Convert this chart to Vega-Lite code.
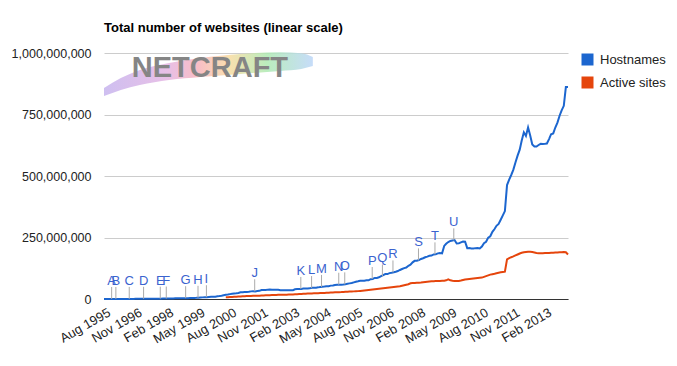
{
  "$schema": "https://vega.github.io/schema/vega-lite/v6.json",
  "width": 464,
  "height": 246,
  "autosize": "none",
  "padding": {"left": 104, "top": 53, "right": 109, "bottom": 67},
  "config": {
    "font": "Liberation Sans",
    "view": {"stroke": null}
  },
  "title": {
    "text": "Total number of websites (linear scale)",
    "anchor": "start",
    "frame": "group",
    "fontSize": 13,
    "fontWeight": "bold",
    "color": "#000000",
    "offset": 12
  },
  "datasets": {
    "series": [
      {"date":"1995-08","Hostnames":0.019},
      {"date":"1995-09","Hostnames":0.02},
      {"date":"1995-10","Hostnames":0.03},
      {"date":"1995-11","Hostnames":0.05},
      {"date":"1995-12","Hostnames":0.07},
      {"date":"1996-01","Hostnames":0.1},
      {"date":"1996-02","Hostnames":0.12},
      {"date":"1996-03","Hostnames":0.15},
      {"date":"1996-04","Hostnames":0.17},
      {"date":"1996-05","Hostnames":0.22},
      {"date":"1996-06","Hostnames":0.25},
      {"date":"1996-07","Hostnames":0.3},
      {"date":"1996-08","Hostnames":0.34},
      {"date":"1996-09","Hostnames":0.4},
      {"date":"1996-10","Hostnames":0.46},
      {"date":"1996-11","Hostnames":0.53},
      {"date":"1996-12","Hostnames":0.6},
      {"date":"1997-01","Hostnames":0.65},
      {"date":"1997-02","Hostnames":0.74},
      {"date":"1997-03","Hostnames":0.79},
      {"date":"1997-04","Hostnames":0.9},
      {"date":"1997-05","Hostnames":1.0},
      {"date":"1997-06","Hostnames":1.1},
      {"date":"1997-07","Hostnames":1.16},
      {"date":"1997-08","Hostnames":1.2},
      {"date":"1997-09","Hostnames":1.3},
      {"date":"1997-10","Hostnames":1.36},
      {"date":"1997-11","Hostnames":1.47},
      {"date":"1997-12","Hostnames":1.6},
      {"date":"1998-01","Hostnames":1.83},
      {"date":"1998-02","Hostnames":1.92},
      {"date":"1998-03","Hostnames":2.11},
      {"date":"1998-04","Hostnames":2.27},
      {"date":"1998-05","Hostnames":2.4},
      {"date":"1998-06","Hostnames":2.6},
      {"date":"1998-07","Hostnames":2.6},
      {"date":"1998-08","Hostnames":2.64},
      {"date":"1998-09","Hostnames":3.0},
      {"date":"1998-10","Hostnames":3.16},
      {"date":"1998-11","Hostnames":3.35},
      {"date":"1998-12","Hostnames":3.52},
      {"date":"1999-01","Hostnames":4.06},
      {"date":"1999-02","Hostnames":4.3},
      {"date":"1999-03","Hostnames":4.4},
      {"date":"1999-04","Hostnames":4.8},
      {"date":"1999-05","Hostnames":5.4},
      {"date":"1999-06","Hostnames":6.2},
      {"date":"1999-07","Hostnames":6.6},
      {"date":"1999-08","Hostnames":7.1},
      {"date":"1999-09","Hostnames":7.4},
      {"date":"1999-10","Hostnames":8.1},
      {"date":"1999-11","Hostnames":8.8},
      {"date":"1999-12","Hostnames":9.6},
      {"date":"2000-01","Hostnames":9.6},
      {"date":"2000-02","Hostnames":11.2},
      {"date":"2000-03","Hostnames":11.8},
      {"date":"2000-04","Hostnames":13.1},
      {"date":"2000-05","Hostnames":15.1},
      {"date":"2000-06","Hostnames":17.1,"Active sites":7.0},
      {"date":"2000-07","Hostnames":18.2,"Active sites":7.5},
      {"date":"2000-08","Hostnames":19.8,"Active sites":8.0},
      {"date":"2000-09","Hostnames":21.2,"Active sites":8.5},
      {"date":"2000-10","Hostnames":22.3,"Active sites":9.0},
      {"date":"2000-11","Hostnames":23.2,"Active sites":9.5},
      {"date":"2000-12","Hostnames":24.5,"Active sites":10.0},
      {"date":"2001-01","Hostnames":27.0,"Active sites":10.5},
      {"date":"2001-02","Hostnames":27.6,"Active sites":11.0},
      {"date":"2001-03","Hostnames":28.1,"Active sites":11.5},
      {"date":"2001-04","Hostnames":28.7,"Active sites":12.0},
      {"date":"2001-05","Hostnames":29.3,"Active sites":12.3},
      {"date":"2001-06","Hostnames":31.0,"Active sites":12.6},
      {"date":"2001-07","Hostnames":31.4,"Active sites":12.8},
      {"date":"2001-08","Hostnames":30.8,"Active sites":13.0},
      {"date":"2001-09","Hostnames":32.4,"Active sites":13.2},
      {"date":"2001-10","Hostnames":33.1,"Active sites":13.5},
      {"date":"2001-11","Hostnames":36.5,"Active sites":14.0},
      {"date":"2001-12","Hostnames":36.3,"Active sites":14.5},
      {"date":"2002-01","Hostnames":36.3,"Active sites":15.0},
      {"date":"2002-02","Hostnames":38.1,"Active sites":15.3},
      {"date":"2002-03","Hostnames":38.4,"Active sites":15.6},
      {"date":"2002-04","Hostnames":37.6,"Active sites":16.0},
      {"date":"2002-05","Hostnames":38.1,"Active sites":16.3},
      {"date":"2002-06","Hostnames":37.9,"Active sites":16.6},
      {"date":"2002-07","Hostnames":37.2,"Active sites":16.8},
      {"date":"2002-08","Hostnames":35.8,"Active sites":17.0},
      {"date":"2002-09","Hostnames":35.5,"Active sites":17.2},
      {"date":"2002-10","Hostnames":35.6,"Active sites":17.5},
      {"date":"2002-11","Hostnames":35.4,"Active sites":17.7},
      {"date":"2002-12","Hostnames":35.5,"Active sites":18.0},
      {"date":"2003-01","Hostnames":35.9,"Active sites":18.2},
      {"date":"2003-02","Hostnames":35.9,"Active sites":18.5},
      {"date":"2003-03","Hostnames":39.5,"Active sites":19.0},
      {"date":"2003-04","Hostnames":40.4,"Active sites":19.5},
      {"date":"2003-05","Hostnames":40.9,"Active sites":20.0},
      {"date":"2003-06","Hostnames":40.9,"Active sites":20.5},
      {"date":"2003-07","Hostnames":42.3,"Active sites":21.0},
      {"date":"2003-08","Hostnames":42.8,"Active sites":21.5},
      {"date":"2003-09","Hostnames":43.1,"Active sites":22.0},
      {"date":"2003-10","Hostnames":43.3,"Active sites":22.4},
      {"date":"2003-11","Hostnames":45.9,"Active sites":22.8},
      {"date":"2003-12","Hostnames":46.1,"Active sites":23.0},
      {"date":"2004-01","Hostnames":46.1,"Active sites":23.3},
      {"date":"2004-02","Hostnames":47.3,"Active sites":23.6},
      {"date":"2004-03","Hostnames":48.8,"Active sites":24.0},
      {"date":"2004-04","Hostnames":50.0,"Active sites":24.3},
      {"date":"2004-05","Hostnames":50.5,"Active sites":24.6},
      {"date":"2004-06","Hostnames":51.6,"Active sites":25.0},
      {"date":"2004-07","Hostnames":52.1,"Active sites":25.5},
      {"date":"2004-08","Hostnames":54.4,"Active sites":26.0},
      {"date":"2004-09","Hostnames":55.2,"Active sites":26.5},
      {"date":"2004-10","Hostnames":56.9,"Active sites":27.0},
      {"date":"2004-11","Hostnames":57.9,"Active sites":27.5},
      {"date":"2004-12","Hostnames":57.9,"Active sites":27.8},
      {"date":"2005-01","Hostnames":58.0,"Active sites":28.0},
      {"date":"2005-02","Hostnames":59.1,"Active sites":28.5},
      {"date":"2005-03","Hostnames":60.3,"Active sites":29.0},
      {"date":"2005-04","Hostnames":62.3,"Active sites":29.5},
      {"date":"2005-05","Hostnames":63.5,"Active sites":30.0},
      {"date":"2005-06","Hostnames":64.8,"Active sites":30.5},
      {"date":"2005-07","Hostnames":67.6,"Active sites":31.0},
      {"date":"2005-08","Hostnames":70.4,"Active sites":31.5},
      {"date":"2005-09","Hostnames":72.1,"Active sites":32.0},
      {"date":"2005-10","Hostnames":74.4,"Active sites":33.0},
      {"date":"2005-11","Hostnames":74.4,"Active sites":34.0},
      {"date":"2005-12","Hostnames":74.2,"Active sites":35.0},
      {"date":"2006-01","Hostnames":76.2,"Active sites":36.0},
      {"date":"2006-02","Hostnames":76.2,"Active sites":37.0},
      {"date":"2006-03","Hostnames":80.7,"Active sites":38.0},
      {"date":"2006-04","Hostnames":81.6,"Active sites":39.0},
      {"date":"2006-05","Hostnames":85.5,"Active sites":40.0},
      {"date":"2006-06","Hostnames":85.5,"Active sites":41.0},
      {"date":"2006-07","Hostnames":88.2,"Active sites":42.0},
      {"date":"2006-08","Hostnames":92.6,"Active sites":43.0},
      {"date":"2006-09","Hostnames":96.9,"Active sites":44.0},
      {"date":"2006-10","Hostnames":101.4,"Active sites":45.0},
      {"date":"2006-11","Hostnames":101.4,"Active sites":46.0},
      {"date":"2006-12","Hostnames":105.2,"Active sites":47.0},
      {"date":"2007-01","Hostnames":106.9,"Active sites":48.0},
      {"date":"2007-02","Hostnames":108.8,"Active sites":49.0},
      {"date":"2007-03","Hostnames":110.8,"Active sites":50.0},
      {"date":"2007-04","Hostnames":113.7,"Active sites":51.0},
      {"date":"2007-05","Hostnames":118.0,"Active sites":52.0},
      {"date":"2007-06","Hostnames":122.0,"Active sites":54.0},
      {"date":"2007-07","Hostnames":125.6,"Active sites":56.0},
      {"date":"2007-08","Hostnames":127.9,"Active sites":58.0},
      {"date":"2007-09","Hostnames":135.2,"Active sites":60.0},
      {"date":"2007-10","Hostnames":139.1,"Active sites":64.0},
      {"date":"2007-11","Hostnames":149.0,"Active sites":65.0},
      {"date":"2007-12","Hostnames":155.2,"Active sites":65.5},
      {"date":"2008-01","Hostnames":155.6,"Active sites":66.0},
      {"date":"2008-02","Hostnames":158.2,"Active sites":66.5},
      {"date":"2008-03","Hostnames":162.7,"Active sites":67.0},
      {"date":"2008-04","Hostnames":165.7,"Active sites":68.0},
      {"date":"2008-05","Hostnames":169.8,"Active sites":69.0},
      {"date":"2008-06","Hostnames":172.3,"Active sites":70.0},
      {"date":"2008-07","Hostnames":175.5,"Active sites":71.0},
      {"date":"2008-08","Hostnames":176.7,"Active sites":72.0},
      {"date":"2008-09","Hostnames":181.3,"Active sites":72.5},
      {"date":"2008-10","Hostnames":182.2,"Active sites":73.0},
      {"date":"2008-11","Hostnames":185.5,"Active sites":73.0},
      {"date":"2008-12","Hostnames":186.7,"Active sites":73.5},
      {"date":"2009-01","Hostnames":185.5,"Active sites":74.0},
      {"date":"2009-02","Hostnames":215.7,"Active sites":74.5},
      {"date":"2009-03","Hostnames":224.7,"Active sites":76.0},
      {"date":"2009-04","Hostnames":231.5,"Active sites":80.0},
      {"date":"2009-05","Hostnames":235.9,"Active sites":76.0},
      {"date":"2009-06","Hostnames":238.0,"Active sites":74.0},
      {"date":"2009-07","Hostnames":239.6,"Active sites":73.0},
      {"date":"2009-08","Hostnames":225.9,"Active sites":73.0},
      {"date":"2009-09","Hostnames":226.1,"Active sites":73.5},
      {"date":"2009-10","Hostnames":230.4,"Active sites":75.0},
      {"date":"2009-11","Hostnames":233.8,"Active sites":77.0},
      {"date":"2009-12","Hostnames":233.1,"Active sites":79.0},
      {"date":"2010-01","Hostnames":206.7,"Active sites":80.0},
      {"date":"2010-02","Hostnames":207.0,"Active sites":81.0},
      {"date":"2010-03","Hostnames":205.4,"Active sites":82.0},
      {"date":"2010-04","Hostnames":205.5,"Active sites":83.0},
      {"date":"2010-05","Hostnames":206.8,"Active sites":84.0},
      {"date":"2010-06","Hostnames":206.9,"Active sites":85.0},
      {"date":"2010-07","Hostnames":205.7,"Active sites":86.0},
      {"date":"2010-08","Hostnames":213.5,"Active sites":87.0},
      {"date":"2010-09","Hostnames":227.2,"Active sites":90.0},
      {"date":"2010-10","Hostnames":232.8,"Active sites":93.0},
      {"date":"2010-11","Hostnames":249.5,"Active sites":96.0},
      {"date":"2010-12","Hostnames":255.0,"Active sites":99.0},
      {"date":"2011-01","Hostnames":273.3,"Active sites":101.0},
      {"date":"2011-02","Hostnames":284.6,"Active sites":103.0},
      {"date":"2011-03","Hostnames":297.6,"Active sites":105.0},
      {"date":"2011-04","Hostnames":305.0,"Active sites":107.0},
      {"date":"2011-05","Hostnames":322.0,"Active sites":109.0},
      {"date":"2011-06","Hostnames":340.0,"Active sites":110.0},
      {"date":"2011-07","Hostnames":357.3,"Active sites":111.0},
      {"date":"2011-08","Hostnames":463.0,"Active sites":161.0},
      {"date":"2011-09","Hostnames":485.1,"Active sites":166.0},
      {"date":"2011-10","Hostnames":504.1,"Active sites":170.0},
      {"date":"2011-11","Hostnames":525.9,"Active sites":173.0},
      {"date":"2011-12","Hostnames":555.0,"Active sites":177.0},
      {"date":"2012-01","Hostnames":582.7,"Active sites":181.0},
      {"date":"2012-02","Hostnames":607.1,"Active sites":185.0},
      {"date":"2012-03","Hostnames":644.3,"Active sites":188.0},
      {"date":"2012-04","Hostnames":677.7,"Active sites":190.0},
      {"date":"2012-05","Hostnames":662.9,"Active sites":191.0},
      {"date":"2012-06","Hostnames":697.1,"Active sites":192.0},
      {"date":"2012-07","Hostnames":665.9,"Active sites":192.0},
      {"date":"2012-08","Hostnames":628.2,"Active sites":191.0},
      {"date":"2012-09","Hostnames":620.2,"Active sites":189.0},
      {"date":"2012-10","Hostnames":620.0,"Active sites":187.0},
      {"date":"2012-11","Hostnames":626.0,"Active sites":186.0},
      {"date":"2012-12","Hostnames":631.0,"Active sites":186.0},
      {"date":"2013-01","Hostnames":629.9,"Active sites":186.0},
      {"date":"2013-02","Hostnames":630.8,"Active sites":186.5},
      {"date":"2013-03","Hostnames":632.0,"Active sites":187.0},
      {"date":"2013-04","Hostnames":650.0,"Active sites":187.0},
      {"date":"2013-05","Hostnames":670.0,"Active sites":188.0},
      {"date":"2013-06","Hostnames":673.0,"Active sites":188.0},
      {"date":"2013-07","Hostnames":697.0,"Active sites":189.0},
      {"date":"2013-08","Hostnames":716.8,"Active sites":189.0},
      {"date":"2013-09","Hostnames":745.0,"Active sites":190.0},
      {"date":"2013-10","Hostnames":767.0,"Active sites":190.0},
      {"date":"2013-11","Hostnames":785.3,"Active sites":191.0},
      {"date":"2013-12","Hostnames":861.4,"Active sites":190.0},
      {"date":"2014-01","Hostnames":861.4,"Active sites":181.0}
    ],
    "events": [
      {"letter":"A","date":"1995-11-20","v":0.05},
      {"letter":"B","date":"1996-01-20","v":0.1},
      {"letter":"C","date":"1996-08-01","v":0.34},
      {"letter":"D","date":"1997-02-25","v":0.77},
      {"letter":"E","date":"1997-10-25","v":1.4},
      {"letter":"F","date":"1998-01-20","v":1.85},
      {"letter":"G","date":"1998-10-28","v":3.2},
      {"letter":"H","date":"1999-04-25","v":4.8},
      {"letter":"I","date":"1999-08-25","v":7.3},
      {"letter":"J","date":"2001-07-25","v":31.3},
      {"letter":"K","date":"2003-05-25","v":40.9},
      {"letter":"L","date":"2003-10-28","v":44.5},
      {"letter":"M","date":"2004-03-20","v":49.0},
      {"letter":"N","date":"2004-11-25","v":57.9},
      {"letter":"O","date":"2005-02-20","v":59.5},
      {"letter":"P","date":"2006-03-25","v":81.3},
      {"letter":"Q","date":"2006-08-20","v":91.5},
      {"letter":"R","date":"2007-01-20","v":108.0},
      {"letter":"S","date":"2008-01-25","v":157.0},
      {"letter":"T","date":"2008-09-20","v":181.5},
      {"letter":"U","date":"2009-06-20","v":238.5}
    ],
    "swoosh": [
      {"date":"1995-08-01","v":858,"v2":825},
      {"date":"1996-04-01","v":898,"v2":850},
      {"date":"1997-01-01","v":931,"v2":870},
      {"date":"1998-03-01","v":959,"v2":890},
      {"date":"1999-06-01","v":980,"v2":902},
      {"date":"2001-01-01","v":996,"v2":915},
      {"date":"2002-08-01","v":1003,"v2":927},
      {"date":"2003-06-01","v":999,"v2":935},
      {"date":"2003-11-15","v":984,"v2":947}
    ],
    "logo": [
      {"date":"1999-10-15","v":902,"t":"NETCRAFT"}
    ]
  },
  "encoding": {
    "x": {
      "field": "date",
      "type": "temporal",
      "title": null,
      "scale": {
        "type": "utc",
        "domain": [
          {"year": 1995, "month": 8, "date": 1, "utc": true},
          {"year": 2014, "month": 1, "date": 1, "utc": true}
        ]
      },
      "axis": {
        "values": [
          {"year": 1995, "month": 8, "date": 1, "utc": true},
          {"year": 1996, "month": 11, "date": 1, "utc": true},
          {"year": 1998, "month": 2, "date": 1, "utc": true},
          {"year": 1999, "month": 5, "date": 1, "utc": true},
          {"year": 2000, "month": 8, "date": 1, "utc": true},
          {"year": 2001, "month": 11, "date": 1, "utc": true},
          {"year": 2003, "month": 2, "date": 1, "utc": true},
          {"year": 2004, "month": 5, "date": 1, "utc": true},
          {"year": 2005, "month": 8, "date": 1, "utc": true},
          {"year": 2006, "month": 11, "date": 1, "utc": true},
          {"year": 2008, "month": 2, "date": 1, "utc": true},
          {"year": 2009, "month": 5, "date": 1, "utc": true},
          {"year": 2010, "month": 8, "date": 1, "utc": true},
          {"year": 2011, "month": 11, "date": 1, "utc": true},
          {"year": 2013, "month": 2, "date": 1, "utc": true}
        ],
        "labelExpr": "utcFormat(datum.value, '%b %Y')",
        "labelAngle": -30,
        "labelAlign": "right",
        "labelBaseline": "top",
        "labelPadding": 7,
        "labelOffset": 2,
        "labelFontSize": 13,
        "labelColor": "#222222",
        "labelOverlap": false,
        "labelFlush": false,
        "ticks": false,
        "grid": false,
        "domain": true,
        "domainColor": "#333333",
        "domainWidth": 1
      }
    },
    "y": {
      "field": "v",
      "type": "quantitative",
      "title": null,
      "scale": {"domain": [0, 1000], "nice": false, "zero": true},
      "axis": {
        "values": [0, 250, 500, 750, 1000],
        "labelExpr": "format(datum.value * 1000000, ',')",
        "labelFontSize": 12.5,
        "labelColor": "#222222",
        "labelPadding": 13,
        "ticks": false,
        "domain": false,
        "grid": true,
        "gridColor": "#cccccc",
        "gridWidth": 1
      }
    }
  },
  "layer": [
    {
      "data": {"name": "swoosh"},
      "mark": {
        "type": "area",
        "interpolate": "monotone",
        "opacity": 0.85,
        "fill": {
          "gradient": "linear",
          "x1": 0, "y1": 0, "x2": 1, "y2": 0,
          "stops": [
            {"offset": 0, "color": "#c6b4ee"},
            {"offset": 0.3, "color": "#e3b4e2"},
            {"offset": 0.45, "color": "#f7b2bc"},
            {"offset": 0.6, "color": "#f8dba0"},
            {"offset": 0.78, "color": "#aeeab2"},
            {"offset": 1, "color": "#bcd6f8"}
          ]
        }
      },
      "encoding": {"y2": {"field": "v2"}}
    },
    {
      "data": {"name": "logo"},
      "mark": {
        "type": "text",
        "font": "Liberation Sans",
        "fontSize": 29,
        "fontWeight": "bold",
        "fill": "#858585",
        "align": "center",
        "baseline": "alphabetic"
      },
      "encoding": {"text": {"field": "t"}}
    },
    {
      "data": {"name": "series"},
      "transform": [
        {"fold": ["Hostnames", "Active sites"], "as": ["series", "v"]}
      ],
      "mark": {"type": "line", "strokeWidth": 2, "interpolate": "linear"},
      "encoding": {
        "color": {
          "field": "series",
          "type": "nominal",
          "scale": {"domain": ["Hostnames", "Active sites"], "range": ["#1c66cf", "#e5450c"]},
          "legend": {
            "title": null,
            "orient": "right",
            "offset": 9,
            "padding": 0,
            "symbolType": "square",
            "symbolSize": 144,
            "symbolStrokeWidth": 0,
            "symbolOpacity": 1,
            "labelFontSize": 13,
            "labelColor": "#222222",
            "labelOffset": 6,
            "rowPadding": 9,
            "encode": {
              "symbols": {
                "update": {
                  "fill": {"scale": "color", "field": "value"},
                  "fillOpacity": {"value": 1},
                  "strokeWidth": {"value": 0}
                }
              }
            }
          }
        }
      }
    },
    {
      "data": {"name": "events"},
      "mark": {"type": "rule", "color": "#aaaaaa", "strokeWidth": 1, "y2Offset": -12},
      "encoding": {"y2": {"field": "v"}}
    },
    {
      "data": {"name": "events"},
      "mark": {
        "type": "text",
        "fontSize": 13,
        "color": "#3b63cf",
        "align": "center",
        "baseline": "alphabetic",
        "dy": -14
      },
      "encoding": {"text": {"field": "letter"}}
    }
  ]
}
